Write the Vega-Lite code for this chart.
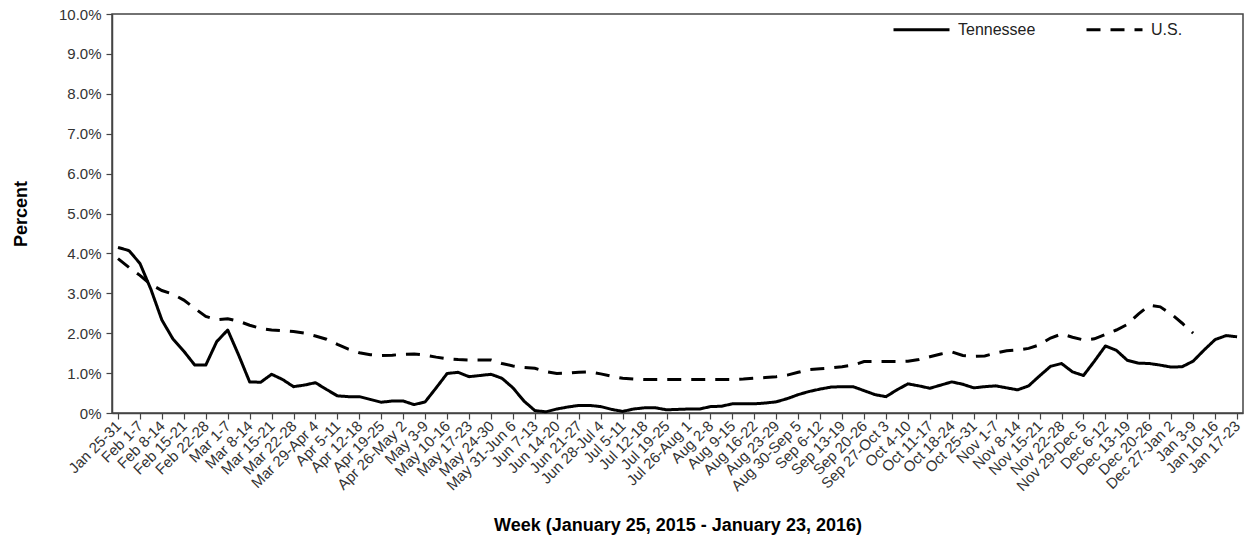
{
  "$schema": "https://vega.github.io/schema/vega-lite/v6.json",
  "autosize": {"type": "none"},
  "padding": {"left": 112, "top": 14, "right": 6, "bottom": 128},
  "width": 1131,
  "height": 399,
  "background": "white",
  "config": {
    "view": {"stroke": "#444", "strokeWidth": 1.5},
    "font": "Liberation Sans"
  },
  "datasets": {
    "tn": [
      {"w":0,"p":4.15},{"w":0.5,"p":4.07},{"w":1,"p":3.75},{"w":1.5,"p":3.1},{"w":2,"p":2.33},{"w":2.5,"p":1.86},{"w":3,"p":1.55},{"w":3.5,"p":1.2},{"w":4,"p":1.2},{"w":4.5,"p":1.79},
      {"w":5,"p":2.08},{"w":5.5,"p":1.45},{"w":6,"p":0.78},{"w":6.5,"p":0.77},{"w":7,"p":0.97},{"w":7.5,"p":0.84},{"w":8,"p":0.66},{"w":8.5,"p":0.7},{"w":9,"p":0.76},{"w":9.5,"p":0.59},
      {"w":10,"p":0.43},{"w":10.5,"p":0.41},{"w":11,"p":0.41},{"w":11.5,"p":0.34},{"w":12,"p":0.27},{"w":12.5,"p":0.3},{"w":13,"p":0.3},{"w":13.5,"p":0.21},{"w":14,"p":0.28},{"w":14.5,"p":0.63},
      {"w":15,"p":0.99},{"w":15.5,"p":1.02},{"w":16,"p":0.91},{"w":16.5,"p":0.94},{"w":17,"p":0.97},{"w":17.5,"p":0.87},{"w":18,"p":0.63},{"w":18.5,"p":0.3},{"w":19,"p":0.06},{"w":19.5,"p":0.03},
      {"w":20,"p":0.1},{"w":20.5,"p":0.15},{"w":21,"p":0.19},{"w":21.5,"p":0.19},{"w":22,"p":0.16},{"w":22.5,"p":0.09},{"w":23,"p":0.04},{"w":23.5,"p":0.1},{"w":24,"p":0.13},{"w":24.5,"p":0.13},
      {"w":25,"p":0.08},{"w":25.5,"p":0.09},{"w":26,"p":0.1},{"w":26.5,"p":0.1},{"w":27,"p":0.16},{"w":27.5,"p":0.17},{"w":28,"p":0.23},{"w":28.5,"p":0.23},{"w":29,"p":0.23},{"w":29.5,"p":0.25},
      {"w":30,"p":0.28},{"w":30.5,"p":0.36},{"w":31,"p":0.46},{"w":31.5,"p":0.54},{"w":32,"p":0.6},{"w":32.5,"p":0.65},{"w":33,"p":0.66},{"w":33.5,"p":0.66},{"w":34,"p":0.56},{"w":34.5,"p":0.46},
      {"w":35,"p":0.41},{"w":35.5,"p":0.58},{"w":36,"p":0.73},{"w":36.5,"p":0.68},{"w":37,"p":0.62},{"w":37.5,"p":0.7},{"w":38,"p":0.78},{"w":38.5,"p":0.72},{"w":39,"p":0.63},{"w":39.5,"p":0.66},
      {"w":40,"p":0.68},{"w":40.5,"p":0.63},{"w":41,"p":0.58},{"w":41.5,"p":0.68},{"w":42,"p":0.93},{"w":42.5,"p":1.17},{"w":43,"p":1.24},{"w":43.5,"p":1.03},{"w":44,"p":0.94},{"w":44.5,"p":1.3},
      {"w":45,"p":1.68},{"w":45.5,"p":1.57},{"w":46,"p":1.32},{"w":46.5,"p":1.25},{"w":47,"p":1.24},{"w":47.5,"p":1.2},{"w":48,"p":1.15},{"w":48.5,"p":1.16},{"w":49,"p":1.3},{"w":49.5,"p":1.58},
      {"w":50,"p":1.84},{"w":50.5,"p":1.94},{"w":51,"p":1.91}
    ],
    "us": [
      {"w":0,"p":3.87},{"w":0.5,"p":3.65},{"w":1,"p":3.45},{"w":1.5,"p":3.22},{"w":2,"p":3.07},{"w":2.5,"p":2.98},{"w":3,"p":2.83},{"w":3.5,"p":2.62},{"w":4,"p":2.42},{"w":4.5,"p":2.34},
      {"w":5,"p":2.36},{"w":5.5,"p":2.3},{"w":6,"p":2.2},{"w":6.5,"p":2.12},{"w":7,"p":2.08},{"w":7.5,"p":2.06},{"w":8,"p":2.04},{"w":8.5,"p":2.0},{"w":9,"p":1.93},{"w":9.5,"p":1.85},
      {"w":10,"p":1.72},{"w":10.5,"p":1.6},{"w":11,"p":1.51},{"w":11.5,"p":1.46},{"w":12,"p":1.44},{"w":12.5,"p":1.45},{"w":13,"p":1.47},{"w":13.5,"p":1.48},{"w":14,"p":1.45},{"w":14.5,"p":1.4},
      {"w":15,"p":1.36},{"w":15.5,"p":1.34},{"w":16,"p":1.33},{"w":16.5,"p":1.33},{"w":17,"p":1.33},{"w":17.5,"p":1.24},{"w":18,"p":1.18},{"w":18.5,"p":1.14},{"w":19,"p":1.12},{"w":19.5,"p":1.04},
      {"w":20,"p":0.99},{"w":20.5,"p":1.0},{"w":21,"p":1.02},{"w":21.5,"p":1.03},{"w":22,"p":0.98},{"w":22.5,"p":0.92},{"w":23,"p":0.87},{"w":23.5,"p":0.85},{"w":24,"p":0.84},{"w":24.5,"p":0.84},
      {"w":25,"p":0.84},{"w":25.5,"p":0.84},{"w":26,"p":0.84},{"w":26.5,"p":0.84},{"w":27,"p":0.84},{"w":27.5,"p":0.84},{"w":28,"p":0.84},{"w":28.5,"p":0.85},{"w":29,"p":0.87},{"w":29.5,"p":0.89},
      {"w":30,"p":0.91},{"w":30.5,"p":0.95},{"w":31,"p":1.02},{"w":31.5,"p":1.09},{"w":32,"p":1.11},{"w":32.5,"p":1.13},{"w":33,"p":1.16},{"w":33.5,"p":1.2},{"w":34,"p":1.29},{"w":34.5,"p":1.29},
      {"w":35,"p":1.29},{"w":35.5,"p":1.29},{"w":36,"p":1.3},{"w":36.5,"p":1.34},{"w":37,"p":1.41},{"w":37.5,"p":1.48},{"w":38,"p":1.53},{"w":38.5,"p":1.44},{"w":39,"p":1.42},{"w":39.5,"p":1.43},
      {"w":40,"p":1.5},{"w":40.5,"p":1.56},{"w":41,"p":1.58},{"w":41.5,"p":1.62},{"w":42,"p":1.71},{"w":42.5,"p":1.88},{"w":43,"p":1.98},{"w":43.5,"p":1.9},{"w":44,"p":1.83},{"w":44.5,"p":1.86},
      {"w":45,"p":1.97},{"w":45.5,"p":2.08},{"w":46,"p":2.22},{"w":46.5,"p":2.48},{"w":47,"p":2.7},{"w":47.5,"p":2.66},{"w":48,"p":2.48},{"w":48.5,"p":2.25},{"w":49,"p":2.0}
    ]
  },
  "layer": [
    {
      "data": {"name": "tn"},
      "transform": [{"calculate": "'Tennessee'", "as": "series"}],
      "mark": {"type": "line", "color": "black", "strokeWidth": 3, "strokeJoin": "round"},
      "encoding": {
        "x": {"field": "w", "type": "quantitative"},
        "y": {"field": "p", "type": "quantitative"},
        "strokeDash": {"field": "series", "type": "nominal"}
      }
    },
    {
      "data": {"name": "us"},
      "transform": [{"calculate": "'U.S.'", "as": "series"}],
      "mark": {"type": "line", "color": "black", "strokeWidth": 3, "strokeCap": "butt"},
      "encoding": {
        "x": {"field": "w", "type": "quantitative"},
        "y": {"field": "p", "type": "quantitative"},
        "strokeDash": {"field": "series", "type": "nominal"}
      }
    }
  ],
  "resolve": {"scale": {"strokeDash": "shared"}},
  "encoding": {
    "x": {
      "field": "w",
      "type": "quantitative",
      "scale": {"domain": [-0.273, 51.27], "nice": false, "zero": false},
      "axis": {
        "title": "Week (January 25, 2015 - January 23, 2016)",
        "values": [0,1,2,3,4,5,6,7,8,9,10,11,12,13,14,15,16,17,18,19,20,21,22,23,24,25,26,27,28,29,30,31,32,33,34,35,36,37,38,39,40,41,42,43,44,45,46,47,48,49,50,51],
        "labelExpr": "['Jan 25-31','Feb 1-7','Feb 8-14','Feb 15-21','Feb 22-28','Mar 1-7','Mar 8-14','Mar 15-21','Mar 22-28','Mar 29-Apr 4','Apr 5-11','Apr 12-18','Apr 19-25','Apr 26-May 2','May 3-9','May 10-16','May 17-23','May 24-30','May 31-Jun 6','Jun 7-13','Jun 14-20','Jun 21-27','Jun 28-Jul 4','Jul 5-11','Jul 12-18','Jul 19-25','Jul 26-Aug 1','Aug 2-8','Aug 9-15','Aug 16-22','Aug 23-29','Aug 30-Sep 5','Sep 6-12','Sep 13-19','Sep 20-26','Sep 27-Oct 3','Oct 4-10','Oct 11-17','Oct 18-24','Oct 25-31','Nov 1-7','Nov 8-14','Nov 15-21','Nov 22-28','Nov 29-Dec 5','Dec 6-12','Dec 13-19','Dec 20-26','Dec 27-Jan 2','Jan 3-9','Jan 10-16','Jan 17-23'][datum.value]",
        "labelAngle": -45,
        "labelAlign": "right",
        "labelBaseline": "middle",
        "labelFontSize": 15,
        "labelColor": "#333",
        "labelPadding": 4,
        "labelOverlap": false,
        "labelFlush": false,
        "labelBound": false,
        "grid": false,
        "tickSize": 6,
        "tickColor": "#444",
        "tickWidth": 1.2,
        "domainColor": "#444",
        "domainWidth": 1.5,
        "titleFontSize": 18,
        "titleFontWeight": "bold",
        "titleColor": "black",
        "titlePadding": 23
      }
    },
    "y": {
      "field": "p",
      "type": "quantitative",
      "scale": {"domain": [0, 10], "nice": false},
      "axis": {
        "title": "Percent",
        "values": [0,1,2,3,4,5,6,7,8,9,10],
        "labelExpr": "datum.value == 0 ? '0%' : format(datum.value, '.1f') + '%'",
        "labelFontSize": 15,
        "labelColor": "#333",
        "labelPadding": 5,
        "grid": false,
        "tickSize": 6,
        "tickColor": "#444",
        "tickWidth": 1.2,
        "domainColor": "#444",
        "domainWidth": 1.5,
        "titleFontSize": 18,
        "titleFontWeight": "bold",
        "titleColor": "black",
        "titlePadding": 28
      }
    },
    "strokeDash": {
      "field": "series",
      "type": "nominal",
      "scale": {"domain": ["Tennessee", "U.S."], "range": [[1, 0], [14, 10]]},
      "legend": {
        "title": null,
        "orient": "none",
        "legendX": 780,
        "legendY": -14,
        "direction": "horizontal",
        "symbolType": "stroke",
        "symbolSize": 3136,
        "symbolStrokeWidth": 3,
        "symbolStrokeColor": "black",
        "labelFontSize": 16,
        "labelColor": "#222",
        "labelOffset": 7,
        "columnPadding": 44
      }
    }
  }
}
